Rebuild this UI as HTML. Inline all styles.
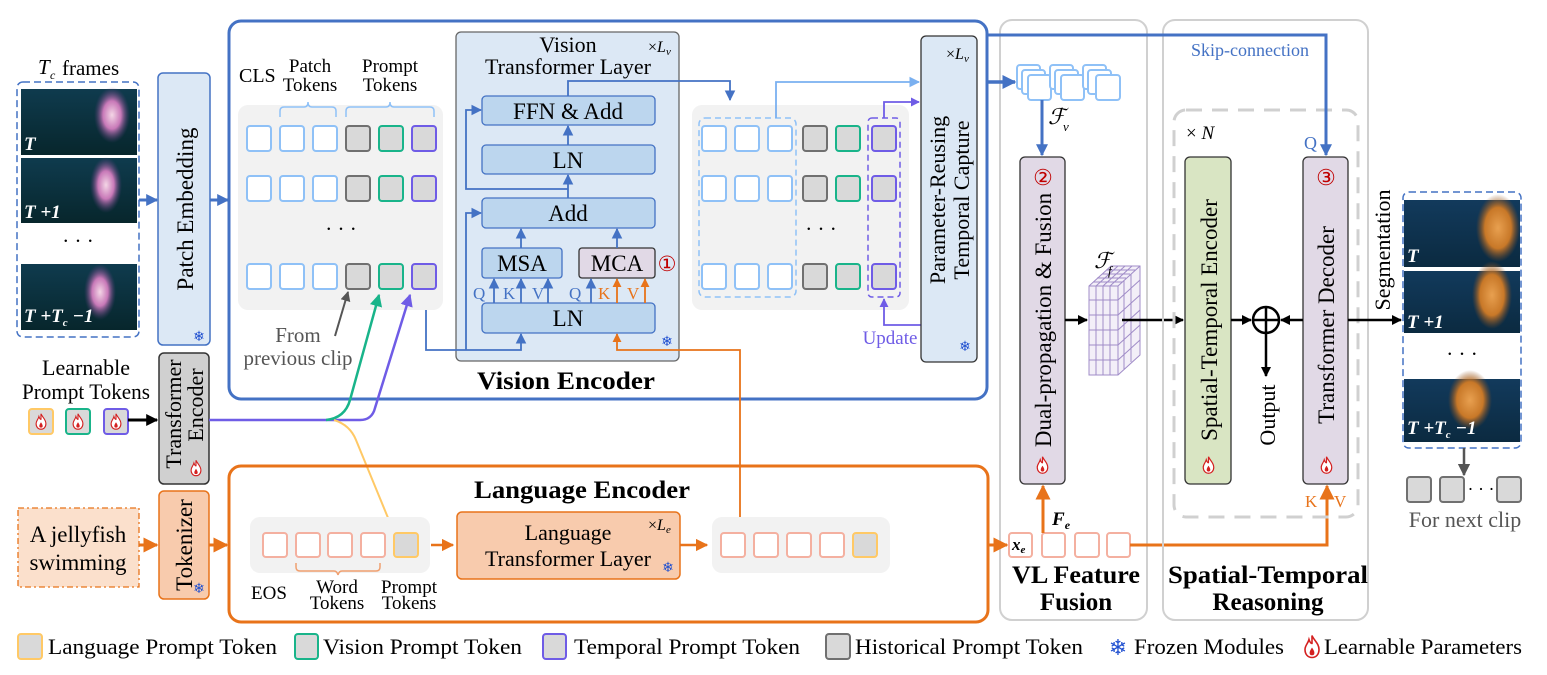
<!DOCTYPE html>
<html><head><meta charset="utf-8"><style>
html,body{margin:0;padding:0;background:#fff;}
svg{display:block;font-family:"Liberation Serif",serif;}
</style></head><body>
<svg width="1547" height="675" viewBox="0 0 1547 675" xmlns="http://www.w3.org/2000/svg">
<defs>
<marker id="mB" viewBox="0 0 10 10" refX="9" refY="5" markerWidth="4" markerHeight="4" orient="auto"><path d="M0,0L10,5L0,10z" fill="#4472c4"/></marker>
<marker id="mb" viewBox="0 0 10 10" refX="9" refY="5" markerWidth="6" markerHeight="6" orient="auto"><path d="M0,0L10,5L0,10z" fill="#4472c4"/></marker>
<marker id="mL" viewBox="0 0 10 10" refX="9" refY="5" markerWidth="6" markerHeight="6" orient="auto"><path d="M0,0L10,5L0,10z" fill="#7ab0f0"/></marker>
<marker id="mO" viewBox="0 0 10 10" refX="9" refY="5" markerWidth="5" markerHeight="5" orient="auto"><path d="M0,0L10,5L0,10z" fill="#e8731a"/></marker>
<marker id="mK" viewBox="0 0 10 10" refX="9" refY="5" markerWidth="4" markerHeight="4" orient="auto"><path d="M0,0L10,5L0,10z" fill="#000"/></marker>
<marker id="mP" viewBox="0 0 10 10" refX="9" refY="5" markerWidth="5" markerHeight="5" orient="auto"><path d="M0,0L10,5L0,10z" fill="#6f5ce6"/></marker>
<marker id="mG" viewBox="0 0 10 10" refX="9" refY="5" markerWidth="5" markerHeight="5" orient="auto"><path d="M0,0L10,5L0,10z" fill="#555"/></marker>
<marker id="mGr" viewBox="0 0 10 10" refX="9" refY="5" markerWidth="5" markerHeight="5" orient="auto"><path d="M0,0L10,5L0,10z" fill="#19b48a"/></marker>
<marker id="mY" viewBox="0 0 10 10" refX="9" refY="5" markerWidth="5" markerHeight="5" orient="auto"><path d="M0,0L10,5L0,10z" fill="#ffc966"/></marker>
<linearGradient id="sea" x1="0" y1="0" x2="0" y2="1"><stop offset="0" stop-color="#0f3b4e"/><stop offset="1" stop-color="#07262c"/></linearGradient>
<linearGradient id="sea2" x1="0" y1="0" x2="0" y2="1"><stop offset="0" stop-color="#123a5c"/><stop offset="1" stop-color="#0b2a40"/></linearGradient>
<radialGradient id="jp"><stop offset="0" stop-color="#f4d6e6"/><stop offset="0.5" stop-color="#c879b8"/><stop offset="1" stop-color="#5a3a78" stop-opacity="0"/></radialGradient>
<radialGradient id="jo"><stop offset="0" stop-color="#e8a050"/><stop offset="0.6" stop-color="#c87828"/><stop offset="1" stop-color="#8a5020" stop-opacity="0"/></radialGradient>
<symbol id="flame" viewBox="0 0 20 24"><path d="M10,1C12,6 17,9 17,15C17,20 14,23 10,23C6,23 3,20 3,15C3,11 6,9 7,5C8,8 9,9 10,9C10,6 10,3 10,1Z" fill="#fff" stroke="#d42020" stroke-width="1.6"/><path d="M10,13C12,16 13,18 12,20C11,21 9,21 8,20C7,18 8,16 10,13Z" fill="#d42020"/></symbol>
</defs>

<!-- input frames -->
<rect x="17" y="82" width="122" height="255" rx="6" fill="none" stroke="#4472c4" stroke-width="1.5" stroke-dasharray="7,4"/>
<text x="38" y="74" font-size="21" font-style="italic">T</text><text x="50" y="79" font-size="12" font-style="italic">c</text><text x="62" y="75" font-size="21">frames</text>
<g>
<rect x="21" y="89" width="116" height="66" fill="url(#sea)"/><ellipse cx="112" cy="115" rx="18" ry="28" fill="url(#jp)"/>
<rect x="21" y="158" width="116" height="65" fill="url(#sea)"/><ellipse cx="106" cy="185" rx="16" ry="28" fill="url(#jp)"/>
<rect x="21" y="264" width="116" height="66" fill="url(#sea)"/><ellipse cx="100" cy="292" rx="16" ry="28" fill="url(#jp)"/>
<text x="24" y="150" font-size="19" font-style="italic" font-weight="bold" fill="#fff">T</text>
<text x="24" y="218" font-size="19" font-style="italic" font-weight="bold" fill="#fff">T +1</text>
<text x="24" y="322" font-size="19" font-style="italic" font-weight="bold" fill="#fff">T +T<tspan font-size="11" dy="4">c</tspan><tspan dy="-4"> −1</tspan></text>
<text x="78" y="248" font-size="21" text-anchor="middle">· · ·</text>
</g>
<line x1="139" y1="200" x2="157" y2="200" stroke="#4472c4" stroke-width="3" marker-end="url(#mB)"/>

<!-- Patch embedding -->
<rect x="158" y="73" width="52" height="272" rx="5" fill="#dce8f5" stroke="#4472c4" stroke-width="1.5"/>
<text transform="translate(193,209) rotate(-90)" font-size="23" text-anchor="middle">Patch Embedding</text>
<text x="199" y="341" font-size="14" fill="#1f4fd0" text-anchor="middle">❄</text>
<line x1="210" y1="200" x2="228" y2="200" stroke="#4472c4" stroke-width="3" marker-end="url(#mB)"/>

<!-- Vision encoder outer -->
<rect x="229" y="21" width="758" height="378" rx="12" fill="none" stroke="#4472c4" stroke-width="3"/>
<text x="566" y="389" font-size="25" font-weight="bold" text-anchor="middle" textLength="178" lengthAdjust="spacingAndGlyphs">Vision Encoder</text>

<!-- token panel 1 -->
<rect x="238" y="105" width="205" height="205" rx="10" fill="#f2f2f2"/>
<text x="239" y="82" font-size="20">CLS</text>
<text x="310" y="72" font-size="19" text-anchor="middle">Patch</text><text x="310" y="91" font-size="19" text-anchor="middle">Tokens</text>
<text x="390" y="72" font-size="19" text-anchor="middle">Prompt</text><text x="390" y="91" font-size="19" text-anchor="middle">Tokens</text>
<path d="M280,117 v-6 q0,-4 4,-4 h20 q4,0 4,-5 q0,5 4,5 h20 q4,0 4,4 v6" fill="none" stroke="#8fc1f7" stroke-width="1.5"/>
<path d="M346,117 v-6 q0,-4 4,-4 h36 q4,0 4,-5 q0,5 4,5 h36 q4,0 4,4 v6" fill="none" stroke="#8fc1f7" stroke-width="1.5"/>
<g stroke-width="2">
<g fill="#fff" stroke="#8fc1f7">
<rect x="247" y="126" width="24" height="25" rx="3"/><rect x="280" y="126" width="24" height="25" rx="3"/><rect x="313" y="126" width="24" height="25" rx="3"/>
<rect x="247" y="176" width="24" height="25" rx="3"/><rect x="280" y="176" width="24" height="25" rx="3"/><rect x="313" y="176" width="24" height="25" rx="3"/>
<rect x="247" y="264" width="24" height="25" rx="3"/><rect x="280" y="264" width="24" height="25" rx="3"/><rect x="313" y="264" width="24" height="25" rx="3"/>
</g>
<g fill="#d9d9d9"><rect x="346" y="126" width="24" height="25" rx="3" stroke="#707070"/><rect x="379" y="126" width="24" height="25" rx="3" stroke="#19b48a"/><rect x="412" y="126" width="24" height="25" rx="3" stroke="#6f5ce6"/>
<rect x="346" y="176" width="24" height="25" rx="3" stroke="#707070"/><rect x="379" y="176" width="24" height="25" rx="3" stroke="#19b48a"/><rect x="412" y="176" width="24" height="25" rx="3" stroke="#6f5ce6"/>
<rect x="346" y="264" width="24" height="25" rx="3" stroke="#707070"/><rect x="379" y="264" width="24" height="25" rx="3" stroke="#19b48a"/><rect x="412" y="264" width="24" height="25" rx="3" stroke="#6f5ce6"/></g>
</g>
<text x="341" y="236" font-size="21" text-anchor="middle">· · ·</text>
<text x="298" y="342" font-size="21" fill="#555" text-anchor="middle">From</text>
<text x="298" y="365" font-size="21" fill="#555" text-anchor="middle">previous clip</text>
<line x1="335" y1="336" x2="348" y2="292" stroke="#555" stroke-width="2" marker-end="url(#mG)"/>

<!-- VTL -->
<rect x="456" y="32" width="223" height="329" rx="5" fill="#dce8f5" stroke="#666" stroke-width="1.3"/>
<text x="568" y="52" font-size="22" text-anchor="middle">Vision</text>
<text x="568" y="74" font-size="22" text-anchor="middle">Transformer Layer</text>
<text x="648" y="52" font-size="16">×<tspan font-style="italic">L</tspan><tspan font-size="11" font-style="italic" dy="3">v</tspan></text>
<g fill="#bcd6ee" stroke="#4472c4" stroke-width="1.3">
<rect x="482" y="96" width="173" height="29" rx="4"/>
<rect x="482" y="145" width="173" height="29" rx="4"/>
<rect x="482" y="198" width="173" height="30" rx="4"/>
<rect x="482" y="248" width="80" height="30" rx="3"/>
<rect x="482" y="303" width="173" height="30" rx="4"/>
</g>
<rect x="579" y="248" width="76" height="30" rx="3" fill="#e1d9e6" stroke="#333" stroke-width="1.3"/>
<g font-size="23" text-anchor="middle"><text x="568" y="119">FFN &amp; Add</text><text x="568" y="168">LN</text><text x="568" y="221">Add</text><text x="522" y="271">MSA</text><text x="617" y="271">MCA</text><text x="568" y="326">LN</text></g>
<text x="667" y="271" font-size="21" fill="#c00000" text-anchor="middle">①</text>
<g stroke="#4472c4" stroke-width="1.8" fill="none">
<line x1="494" y1="303" x2="494" y2="279" marker-end="url(#mb)"/><line x1="521" y1="303" x2="521" y2="279" marker-end="url(#mb)"/><line x1="548" y1="303" x2="548" y2="279" marker-end="url(#mb)"/>
<line x1="591" y1="303" x2="591" y2="279" marker-end="url(#mb)"/>
<line x1="521" y1="248" x2="521" y2="229" marker-end="url(#mb)"/><line x1="617" y1="248" x2="617" y2="229" marker-end="url(#mb)"/>
<line x1="568" y1="198" x2="568" y2="175" marker-end="url(#mb)"/><line x1="568" y1="145" x2="568" y2="126" marker-end="url(#mb)"/>
<path d="M568,189 H466 V110 H481" marker-end="url(#mb)"/>
<path d="M426,310 V350 H521 V334" marker-end="url(#mb)"/>
<path d="M466,350 V213 H481" marker-end="url(#mb)"/>
<path d="M568,96 V81 H730 V100" marker-end="url(#mb)"/>
</g>
<g stroke="#e8731a" stroke-width="1.8" fill="none">
<line x1="617" y1="303" x2="617" y2="279" marker-end="url(#mO)"/><line x1="645" y1="303" x2="645" y2="279" marker-end="url(#mO)"/>
<path d="M740,517 V350 H617 V334" marker-end="url(#mO)"/>
</g>
<g font-size="17"><text x="473" y="299" fill="#4472c4">Q</text><text x="503" y="299" fill="#4472c4">K</text><text x="532" y="299" fill="#4472c4">V</text><text x="569" y="299" fill="#4472c4">Q</text><text x="598" y="299" fill="#e8731a">K</text><text x="627" y="299" fill="#e8731a">V</text></g>
<text x="667" y="346" font-size="14" fill="#1f4fd0" text-anchor="middle">❄</text>

<!-- token panel 2 -->
<rect x="692" y="105" width="217" height="205" rx="10" fill="#f2f2f2"/>
<rect x="699" y="118" width="97" height="179" rx="6" fill="none" stroke="#8fc1f7" stroke-width="1.5" stroke-dasharray="6,4"/>
<rect x="868" y="118" width="32" height="179" rx="4" fill="none" stroke="#6f5ce6" stroke-width="1.5" stroke-dasharray="6,4"/>
<g stroke-width="2">
<g fill="#fff" stroke="#8fc1f7">
<rect x="702" y="126" width="24" height="25" rx="3"/><rect x="735" y="126" width="24" height="25" rx="3"/><rect x="768" y="126" width="24" height="25" rx="3"/>
<rect x="702" y="176" width="24" height="25" rx="3"/><rect x="735" y="176" width="24" height="25" rx="3"/><rect x="768" y="176" width="24" height="25" rx="3"/>
<rect x="702" y="264" width="24" height="25" rx="3"/><rect x="735" y="264" width="24" height="25" rx="3"/><rect x="768" y="264" width="24" height="25" rx="3"/>
</g>
<g fill="#d9d9d9"><rect x="803" y="126" width="24" height="25" rx="3" stroke="#707070"/><rect x="836" y="126" width="24" height="25" rx="3" stroke="#19b48a"/><rect x="872" y="126" width="24" height="25" rx="3" stroke="#6f5ce6"/>
<rect x="803" y="176" width="24" height="25" rx="3" stroke="#707070"/><rect x="836" y="176" width="24" height="25" rx="3" stroke="#19b48a"/><rect x="872" y="176" width="24" height="25" rx="3" stroke="#6f5ce6"/>
<rect x="803" y="264" width="24" height="25" rx="3" stroke="#707070"/><rect x="836" y="264" width="24" height="25" rx="3" stroke="#19b48a"/><rect x="872" y="264" width="24" height="25" rx="3" stroke="#6f5ce6"/></g>
</g>
<text x="821" y="236" font-size="21" text-anchor="middle">· · ·</text>
<path d="M776,118 V82 H919" fill="none" stroke="#7ab0f0" stroke-width="1.8" marker-end="url(#mL)"/>
<path d="M884,118 V102 H919" fill="none" stroke="#6f5ce6" stroke-width="1.8" marker-end="url(#mP)"/>
<path d="M921,325 H884 V299" fill="none" stroke="#6f5ce6" stroke-width="1.8" marker-end="url(#mP)"/>
<text x="890" y="344" font-size="19" fill="#6f5ce6" text-anchor="middle">Update</text>

<!-- PRTC -->
<rect x="921" y="36" width="56" height="326" rx="5" fill="#dce8f5" stroke="#333" stroke-width="1.3"/>
<text transform="translate(945,200) rotate(-90)" font-size="22" text-anchor="middle">Parameter-Reusing</text>
<text transform="translate(969,200) rotate(-90)" font-size="22" text-anchor="middle">Temporal Capture</text>
<text x="946" y="59" font-size="16">×<tspan font-style="italic">L</tspan><tspan font-size="11" font-style="italic" dy="3">v</tspan></text>
<text x="965" y="351" font-size="14" fill="#1f4fd0" text-anchor="middle">❄</text>

<!-- VL Feature Fusion -->
<rect x="1000" y="20" width="147" height="600" rx="12" fill="none" stroke="#d0d0d0" stroke-width="2"/>
<line x1="987" y1="82" x2="1015" y2="82" stroke="#4472c4" stroke-width="3.5" marker-end="url(#mB)"/>
<g fill="#fff" stroke="#8fc1f7" stroke-width="2">
<rect x="1017" y="65" width="23" height="24" rx="3"/><rect x="1022" y="70" width="23" height="24" rx="3"/><rect x="1028" y="75" width="23" height="25" rx="3"/>
<rect x="1050" y="65" width="23" height="24" rx="3"/><rect x="1055" y="70" width="23" height="24" rx="3"/><rect x="1061" y="75" width="23" height="25" rx="3"/>
<rect x="1083" y="65" width="23" height="24" rx="3"/><rect x="1088" y="70" width="23" height="24" rx="3"/><rect x="1096" y="75" width="24" height="25" rx="3"/>
</g>
<line x1="1042" y1="100" x2="1042" y2="155" stroke="#4472c4" stroke-width="3" marker-end="url(#mB)"/>
<text x="1048" y="124" font-size="22" font-style="italic">ℱ</text><text x="1063" y="131" font-size="13" font-style="italic">v</text>
<rect x="1020" y="157" width="45" height="327" rx="5" fill="#e1d9e6" stroke="#333" stroke-width="1.3"/>
<text x="1043" y="185" font-size="22" fill="#c00000" text-anchor="middle">②</text>
<text transform="translate(1051,320) rotate(-90)" font-size="23" text-anchor="middle">Dual-propagation &amp; Fusion</text>
<use href="#flame" x="1035" y="456" width="15" height="18"/>
<!-- cube -->
<g stroke="#a08cc8" stroke-width="1" fill="#ece6f4">
<path d="M1089,286 L1111,266 L1140,266 L1140,355 L1118,375 L1089,375 Z" fill="#f3eff8"/>
<path d="M1089,286 L1118,286 L1118,375" fill="none"/><path d="M1118,286 L1140,266" fill="none"/>
<path d="M1096,286V375M1103,286V375M1110,286V375M1089,300H1118M1089,315H1118M1089,330H1118M1089,345H1118M1089,360H1118" fill="none"/>
<path d="M1124,281V369M1131,274V362M1118,300L1140,280M1118,315L1140,295M1118,330L1140,310M1118,345L1140,325M1118,360L1140,340" fill="none"/>
<path d="M1096,286L1118,266M1103,286L1125,266M1110,286L1132,266M1093,282H1122M1097,278H1126M1102,274H1130M1106,270H1135" fill="none"/>
</g>
<text x="1094" y="268" font-size="22" font-style="italic">ℱ</text><text x="1108" y="275" font-size="13" font-style="italic">f</text>
<line x1="1065" y1="320" x2="1087" y2="320" stroke="#000" stroke-width="2.5" marker-end="url(#mK)"/>
<line x1="1122" y1="320" x2="1183" y2="320" stroke="#000" stroke-width="2.5" marker-end="url(#mK)"/>
<!-- Fe tokens -->
<line x1="988" y1="545" x2="1007" y2="545" stroke="#e8731a" stroke-width="3" marker-end="url(#mO)"/>
<g fill="#fff" stroke="#f4b0a0" stroke-width="2">
<rect x="1009" y="533" width="23" height="24" rx="3"/><rect x="1042" y="533" width="23" height="24" rx="3"/><rect x="1075" y="533" width="24" height="24" rx="3"/><rect x="1107" y="533" width="23" height="24" rx="3"/>
</g>
<text x="1012" y="550" font-size="17" font-style="italic" font-weight="bold">x<tspan font-size="11" dy="3">e</tspan></text>
<line x1="1043" y1="533" x2="1043" y2="486" stroke="#e8731a" stroke-width="3" marker-end="url(#mO)"/>
<text x="1052" y="525" font-size="19" font-style="italic" font-weight="bold">F<tspan font-size="12" dy="4">e</tspan></text>
<path d="M1130,545 H1327 V486" fill="none" stroke="#e8731a" stroke-width="3" marker-end="url(#mO)"/>
<text x="1076" y="583" font-size="25" font-weight="bold" text-anchor="middle" textLength="128" lengthAdjust="spacingAndGlyphs">VL Feature</text>
<text x="1076" y="610" font-size="25" font-weight="bold" text-anchor="middle">Fusion</text>

<!-- ST reasoning -->
<rect x="1163" y="20" width="205" height="600" rx="12" fill="none" stroke="#d0d0d0" stroke-width="2"/>
<rect x="1174" y="110" width="184" height="407" rx="12" fill="none" stroke="#d0d0d0" stroke-width="3" stroke-dasharray="16,10"/>
<path d="M987,35 H1326 V155" fill="none" stroke="#4472c4" stroke-width="3" marker-end="url(#mB)"/>
<text x="1250" y="56" font-size="18" fill="#4472c4" text-anchor="middle">Skip-connection</text>
<text x="1186" y="139" font-size="19">× <tspan font-style="italic">N</tspan></text>
<text x="1304" y="149" font-size="18" fill="#4472c4">Q</text>
<rect x="1185" y="157" width="46" height="327" rx="5" fill="#d9e5c3" stroke="#333" stroke-width="1.3"/>
<text transform="translate(1217,320) rotate(-90)" font-size="23" text-anchor="middle">Spatial-Temporal Encoder</text>
<use href="#flame" x="1201" y="456" width="15" height="18"/>
<rect x="1303" y="157" width="45" height="327" rx="5" fill="#e1d9e6" stroke="#333" stroke-width="1.3"/>
<text x="1326" y="185" font-size="22" fill="#c00000" text-anchor="middle">③</text>
<text transform="translate(1334,325) rotate(-90)" font-size="23" text-anchor="middle">Transformer Decoder</text>
<use href="#flame" x="1319" y="456" width="15" height="18"/>
<text x="1305" y="507" font-size="17" fill="#e8731a">K</text><text x="1334" y="507" font-size="17" fill="#e8731a">V</text>
<circle cx="1266" cy="320" r="13" fill="#fff" stroke="#000" stroke-width="2.5"/>
<line x1="1253" y1="320" x2="1279" y2="320" stroke="#000" stroke-width="2.5"/><line x1="1266" y1="307" x2="1266" y2="333" stroke="#000" stroke-width="2.5"/>
<line x1="1231" y1="320" x2="1251" y2="320" stroke="#000" stroke-width="2.5" marker-end="url(#mK)"/>
<line x1="1303" y1="320" x2="1281" y2="320" stroke="#000" stroke-width="2.5" marker-end="url(#mK)"/>
<line x1="1266" y1="333" x2="1266" y2="376" stroke="#000" stroke-width="2.5" marker-end="url(#mK)"/>
<text transform="translate(1275,415) rotate(-90)" font-size="22" text-anchor="middle">Output</text>
<text x="1268" y="583" font-size="25" font-weight="bold" text-anchor="middle" textLength="200" lengthAdjust="spacingAndGlyphs">Spatial-Temporal</text>
<text x="1268" y="610" font-size="25" font-weight="bold" text-anchor="middle">Reasoning</text>

<!-- output -->
<line x1="1348" y1="320" x2="1401" y2="320" stroke="#000" stroke-width="2.5" marker-end="url(#mK)"/>
<text transform="translate(1390,250) rotate(-90)" font-size="22" text-anchor="middle">Segmentation</text>
<rect x="1403" y="192" width="118" height="256" rx="6" fill="none" stroke="#4472c4" stroke-width="1.5" stroke-dasharray="7,4"/>
<rect x="1404" y="200" width="116" height="67" fill="url(#sea2)"/><ellipse cx="1498" cy="228" rx="22" ry="34" fill="url(#jo)"/>
<rect x="1404" y="271" width="116" height="62" fill="url(#sea2)"/><ellipse cx="1492" cy="295" rx="20" ry="34" fill="url(#jo)"/>
<rect x="1404" y="379" width="116" height="63" fill="url(#sea2)"/><ellipse cx="1470" cy="400" rx="22" ry="30" fill="url(#jo)"/>
<g font-size="19" font-style="italic" font-weight="bold" fill="#fff"><text x="1407" y="262">T</text><text x="1407" y="328">T +1</text><text x="1407" y="434">T +T<tspan font-size="11" dy="4">c</tspan><tspan dy="-4"> −1</tspan></text></g>
<text x="1462" y="361" font-size="21" text-anchor="middle">· · ·</text>
<line x1="1464" y1="448" x2="1464" y2="475" stroke="#555" stroke-width="2.5" marker-end="url(#mG)"/>
<g fill="#d9d9d9" stroke="#707070" stroke-width="2"><rect x="1407" y="477" width="24" height="25" rx="3"/><rect x="1440" y="477" width="24" height="25" rx="3"/><rect x="1497" y="477" width="24" height="25" rx="3"/></g>
<text x="1481" y="495" font-size="18" text-anchor="middle">· · ·</text>
<text x="1465" y="527" font-size="22" fill="#555" text-anchor="middle">For next clip</text>

<!-- learnable prompt tokens -->
<text x="86" y="375" font-size="22" text-anchor="middle">Learnable</text>
<text x="86" y="399" font-size="22" text-anchor="middle" textLength="128" lengthAdjust="spacingAndGlyphs">Prompt Tokens</text>
<rect x="29" y="409" width="24" height="25" rx="3" fill="#d9d9d9" stroke="#ffc966" stroke-width="2"/>
<rect x="66" y="409" width="24" height="25" rx="3" fill="#d9d9d9" stroke="#19b48a" stroke-width="2"/>
<rect x="104" y="409" width="24" height="25" rx="3" fill="#d9d9d9" stroke="#6f5ce6" stroke-width="2"/>
<use href="#flame" x="34" y="413" width="14" height="17"/><use href="#flame" x="71" y="413" width="14" height="17"/><use href="#flame" x="109" y="413" width="14" height="17"/>
<line x1="128" y1="420" x2="157" y2="420" stroke="#000" stroke-width="3" marker-end="url(#mK)"/>
<rect x="159" y="353" width="50" height="131" rx="5" fill="#d0d0d0" stroke="#333" stroke-width="1.5"/>
<text transform="translate(181,414) rotate(-90)" font-size="22" text-anchor="middle">Transformer</text>
<text transform="translate(203,405) rotate(-90)" font-size="22" text-anchor="middle">Encoder</text>
<use href="#flame" x="189" y="459" width="14" height="18"/>
<!-- prompt curves -->
<path d="M209,420 H360 Q372,420 375,408 L410,295" fill="none" stroke="#6f5ce6" stroke-width="2.5" marker-end="url(#mP)"/>
<path d="M326,420 Q345,418 350,400 L379,295" fill="none" stroke="#19b48a" stroke-width="2.5" marker-end="url(#mGr)"/>
<path d="M334,420 Q350,425 356,440 L393,530" fill="none" stroke="#ffc966" stroke-width="2" marker-end="url(#mY)"/>

<!-- tokenizer -->
<rect x="18" y="508" width="121" height="79" fill="#fbe0cc" stroke="#e8731a" stroke-width="1.3" stroke-dasharray="6,3,2,3"/>
<text x="78" y="542" font-size="23" text-anchor="middle">A jellyfish</text>
<text x="78" y="570" font-size="23" text-anchor="middle">swimming</text>
<line x1="139" y1="545" x2="157" y2="545" stroke="#e8731a" stroke-width="3" marker-end="url(#mO)"/>
<rect x="159" y="491" width="50" height="108" rx="5" fill="#f8cbad" stroke="#e8731a" stroke-width="1.5"/>
<text transform="translate(192,545) rotate(-90)" font-size="23" text-anchor="middle">Tokenizer</text>
<text x="199" y="593" font-size="14" fill="#1f4fd0" text-anchor="middle">❄</text>
<line x1="209" y1="545" x2="227" y2="545" stroke="#e8731a" stroke-width="3" marker-end="url(#mO)"/>

<!-- Language encoder -->
<rect x="229" y="466" width="759" height="156" rx="12" fill="none" stroke="#e8731a" stroke-width="3"/>
<text x="582" y="498" font-size="25" font-weight="bold" text-anchor="middle" textLength="216" lengthAdjust="spacingAndGlyphs">Language Encoder</text>
<rect x="250" y="517" width="180" height="56" rx="10" fill="#f2f2f2"/>
<g fill="#fff" stroke="#f4b0a0" stroke-width="2"><rect x="263" y="533" width="24" height="24" rx="3"/><rect x="296" y="533" width="24" height="24" rx="3"/><rect x="328" y="533" width="24" height="24" rx="3"/><rect x="361" y="533" width="24" height="24" rx="3"/></g>
<rect x="394" y="533" width="24" height="24" rx="3" fill="#d9d9d9" stroke="#ffc966" stroke-width="2"/>
<path d="M296,563 v4 q0,4 4,4 h34 q3,0 4,4 q1,-4 4,-4 h34 q4,0 4,-4 v-4" fill="none" stroke="#f0a070" stroke-width="1.5"/>
<text x="269" y="599" font-size="19" text-anchor="middle">EOS</text>
<text x="337" y="593" font-size="19" text-anchor="middle">Word</text><text x="337" y="609" font-size="19" text-anchor="middle">Tokens</text>
<text x="409" y="593" font-size="19" text-anchor="middle">Prompt</text><text x="409" y="609" font-size="19" text-anchor="middle">Tokens</text>
<line x1="431" y1="545" x2="453" y2="545" stroke="#e8731a" stroke-width="2.5" marker-end="url(#mO)"/>
<rect x="457" y="512" width="223" height="67" rx="5" fill="#f8cbad" stroke="#e8731a" stroke-width="1.5"/>
<text x="568" y="540" font-size="22" text-anchor="middle">Language</text>
<text x="568" y="566" font-size="22" text-anchor="middle">Transformer Layer</text>
<text x="648" y="530" font-size="16">×<tspan font-style="italic">L</tspan><tspan font-size="11" font-style="italic" dy="3">e</tspan></text>
<text x="668" y="572" font-size="14" fill="#1f4fd0" text-anchor="middle">❄</text>
<line x1="680" y1="545" x2="707" y2="545" stroke="#e8731a" stroke-width="2.5" marker-end="url(#mO)"/>
<rect x="712" y="517" width="178" height="56" rx="10" fill="#f2f2f2"/>
<g fill="#fff" stroke="#f4b0a0" stroke-width="2"><rect x="721" y="533" width="24" height="24" rx="3"/><rect x="754" y="533" width="24" height="24" rx="3"/><rect x="787" y="533" width="24" height="24" rx="3"/><rect x="820" y="533" width="24" height="24" rx="3"/></g>
<rect x="853" y="533" width="24" height="24" rx="3" fill="#d9d9d9" stroke="#ffc966" stroke-width="2"/>

<!-- legend -->
<g font-size="22">
<rect x="18" y="634" width="24" height="25" rx="3" fill="#d9d9d9" stroke="#ffc966" stroke-width="2"/><text x="48" y="654" textLength="229" lengthAdjust="spacingAndGlyphs">Language Prompt Token</text>
<rect x="295" y="634" width="23" height="25" rx="3" fill="#d9d9d9" stroke="#19b48a" stroke-width="2"/><text x="323" y="654" textLength="199" lengthAdjust="spacingAndGlyphs">Vision Prompt Token</text>
<rect x="543" y="634" width="23" height="25" rx="3" fill="#d9d9d9" stroke="#6f5ce6" stroke-width="2"/><text x="574" y="654" textLength="226" lengthAdjust="spacingAndGlyphs">Temporal Prompt Token</text>
<rect x="826" y="634" width="24" height="25" rx="3" fill="#d9d9d9" stroke="#707070" stroke-width="2"/><text x="855" y="654" textLength="228" lengthAdjust="spacingAndGlyphs">Historical Prompt Token</text>
<text x="1118" y="655" font-size="22" fill="#1f4fd0" text-anchor="middle">❄</text><text x="1134" y="654" textLength="150" lengthAdjust="spacingAndGlyphs">Frozen Modules</text>
<use href="#flame" x="1302" y="634" width="20" height="25"/><text x="1324" y="654" textLength="198" lengthAdjust="spacingAndGlyphs">Learnable Parameters</text>
</g>
</svg>
</body></html>
